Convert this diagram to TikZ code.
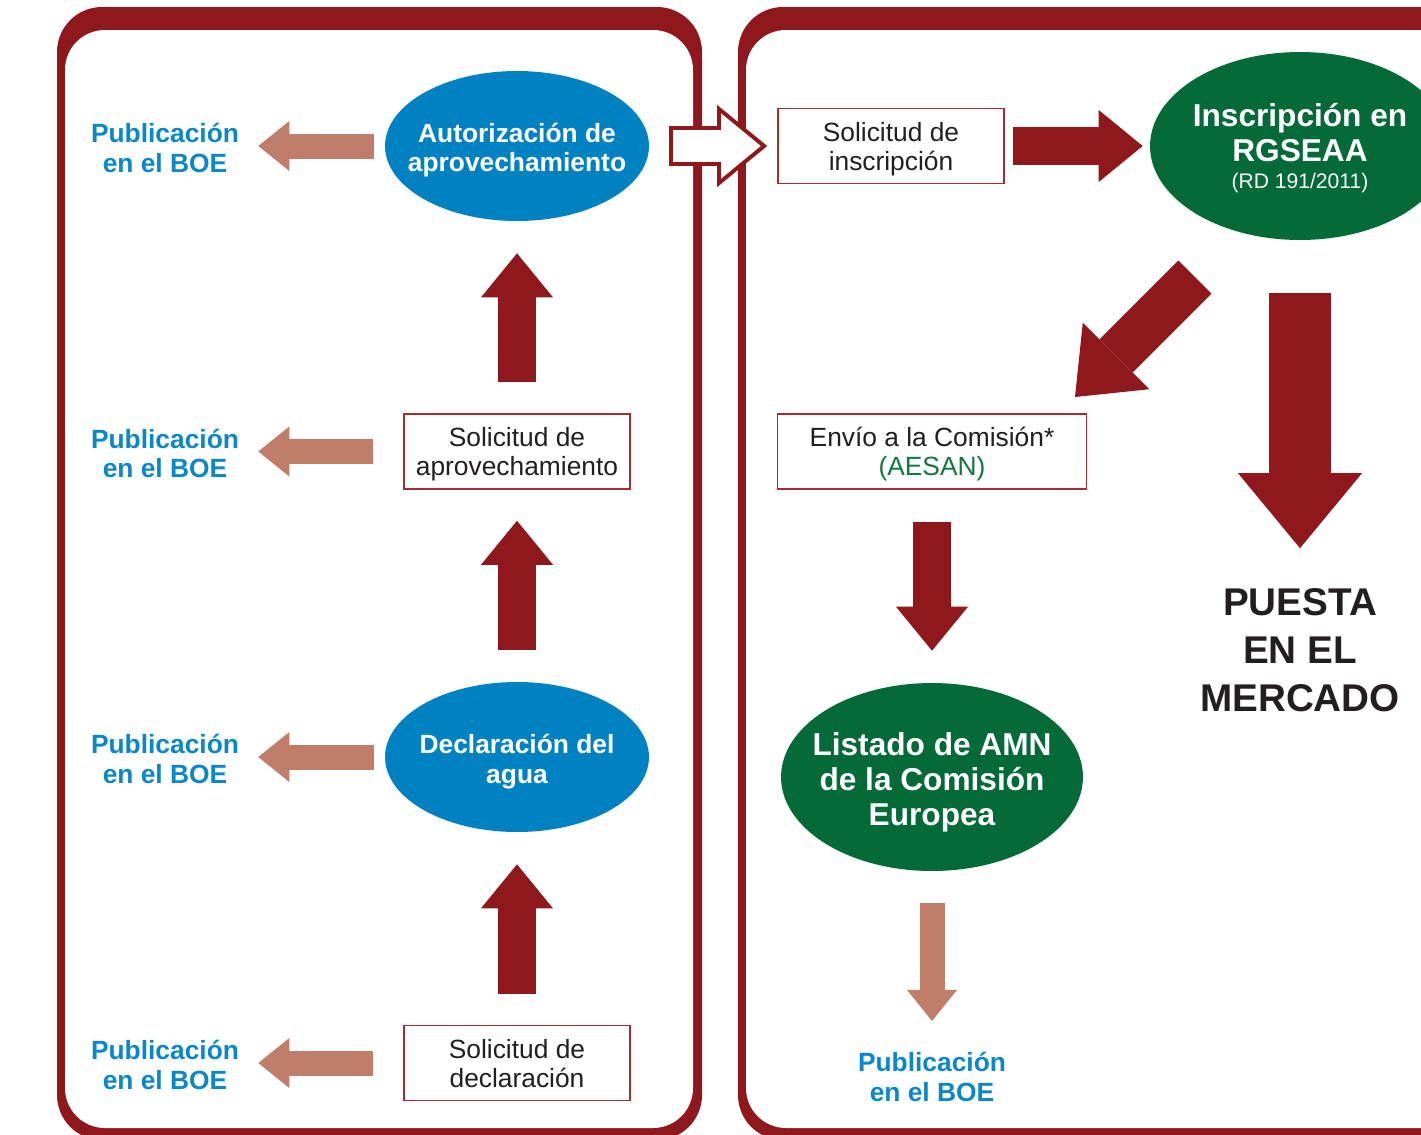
\documentclass[tikz,border=0pt]{standalone}
\usepackage{fontspec}
\setmainfont{Liberation Sans}
\usetikzlibrary{arrows.meta,shapes.geometric}
\definecolor{boered}{RGB}{142,24,27}
\definecolor{boxred}{RGB}{165,45,50}
\definecolor{salmon}{RGB}{192,126,106}
\definecolor{ellblue}{RGB}{0,129,194}
\definecolor{boeblue}{RGB}{10,135,198}
\definecolor{ellgreen}{RGB}{3,106,56}
\definecolor{aesangreen}{RGB}{20,120,62}
\definecolor{textdark}{RGB}{35,31,32}
\begin{document}
\begin{tikzpicture}[x=0.02cm, y=-0.02cm,
  pub/.style={text=boeblue, font=\fontsize{15}{17}\selectfont\bfseries, align=center, inner sep=0pt},
  solbox/.style={draw=boxred, line width=0.9pt, minimum width=4.52cm, minimum height=1.5cm, inner sep=0pt, text depth=0pt, align=center, text=textdark, font=\fontsize{15}{16.5}\selectfont},
  blueell/.style={shape=ellipse, fill=ellblue, minimum width=5.28cm, minimum height=3cm, inner sep=0pt},
  greenell/.style={shape=ellipse, fill=ellgreen, minimum width=6.04cm, minimum height=3.76cm, inner sep=0pt},
  elltext/.style={inner sep=0pt, align=center, text=white, font=\fontsize{15}{17}\selectfont\bfseries},
  bigtext/.style={inner sep=0pt, align=center, text=white, font=\fontsize{18}{20}\selectfont\bfseries},
  redarrow/.style={color=boered, line width=0.76cm, -{Triangle[width=1.44cm, length=0.88cm, line width=0pt]}},
  salarrow/.style={color=salmon, line width=0.5cm, -{Triangle[width=1cm, length=0.62cm, line width=0pt]}},
  hollowout/.style={color=boered, line width=0.8cm, -{Triangle[width=1.64cm, length=1cm, line width=0pt]}},
  hollowin/.style={color=white, line width=0.64cm, -{Triangle[width=1.3cm, length=0.79cm, line width=0pt]}}]
\useasboundingbox (0,0) rectangle (1421,1134);
\clip (0,0) rectangle (1421,1134);
\fill[boered, rounded corners=0.9cm] (57,7) rectangle (702,1140);
\fill[white, rounded corners=0.8cm] (65,30) rectangle (693,1128);
\fill[boered, rounded corners=0.9cm] (738,7) rectangle (1500,1140);
\fill[white, rounded corners=0.8cm] (746,30) rectangle (1490,1128);
\node[blueell] (aut) at (517,146) {};
\node[elltext] (autT) at (517,150) {Autorización de\\aprovechamiento};
\node[solbox] (apr) at (517,451.5) {Solicitud de\\aprovechamiento};
\node[blueell] (dec) at (517,757) {};
\node[elltext] (decT) at (517,762) {Declaración del\\agua};
\node[solbox] (sdec) at (517,1063) {Solicitud de\\declaración};
\node[pub] (pub1) at (165,148) {Publicación\\en el BOE};
\node[pub] (pub2) at (165,453.5) {Publicación\\en el BOE};
\node[pub] (pub3) at (165,759) {Publicación\\en el BOE};
\node[pub] (pub4) at (165,1065) {Publicación\\en el BOE};
\node[solbox] (ins) at (891,146) {Solicitud de\\inscripción};
\node[greenell, minimum width=6cm] (rgs) at (1300,146) {};
\node[bigtext] (rgsT) at (1300,148) {Inscripción en\\RGSEAA\\[-5pt]{\fontsize{12}{14}\selectfont\mdseries (RD 191/2011)}};
\node[solbox, minimum width=6.18cm] (env) at (932,451.5) {Envío a la Comisión*\\\textcolor{aesangreen}{(AESAN)}};
\node[greenell] (lis) at (932,777) {};
\node[bigtext] (lisT) at (932,782) {Listado de AMN\\de la Comisión\\Europea};
\node[pub] (pub5) at (932,1077) {Publicación\\en el BOE};
\node[text=textdark, font=\fontsize{22}{27.2}\selectfont\bfseries, align=center, inner sep=0pt] (mkt) at (1300,650) {PUESTA\\EN EL\\MERCADO};
\coordinate (dgA) at (1195,277);
\coordinate (dgB) at (1075,397);
\draw[salarrow, shorten <=0.22cm, shorten >=0.38cm] (aut.west) -- (aut.west -| pub1.east);
\draw[salarrow, shorten <=0.6cm, shorten >=0.38cm] (apr.west) -- (apr.west -| pub2.east);
\draw[salarrow, shorten <=0.22cm, shorten >=0.38cm] (dec.west) -- (dec.west -| pub3.east);
\draw[salarrow, shorten <=0.6cm, shorten >=0.38cm] (sdec.west) -- (sdec.west -| pub4.east);
\draw[redarrow, shorten <=0.62cm, shorten >=0.64cm] (apr.north) -- (aut.south);
\draw[redarrow, shorten <=0.64cm, shorten >=0.62cm] (dec.north) -- (apr.south);
\draw[redarrow, shorten <=0.62cm, shorten >=0.64cm] (sdec.north) -- (dec.south);
\draw[redarrow, shorten <=0.16cm, shorten >=0.14cm] (ins.east) -- (rgs.west);
\draw[redarrow, shorten <=0.64cm, shorten >=0.64cm] (env.south) -- (lis.north);
\draw[salarrow, shorten <=0.64cm, shorten >=0.62cm] (lis.south) -- (pub5.north);
\draw[redarrow, line width=1.24cm, -{Triangle[width=2.48cm, length=1.5cm, line width=0pt]}, shorten <=1.06cm, shorten >=0.8cm] (rgs.south) -- (mkt.north);
\draw[redarrow, line width=0.94cm, -{Triangle[width=1.88cm, length=1.16cm, line width=0pt]}] (dgA) -- (dgB);
\draw[hollowout, shorten <=0.4cm, shorten >=0.2cm] (aut.east) -- (ins.west);
\draw[hollowin, shorten <=0.48cm, shorten >=0.33cm] (aut.east) -- (ins.west);
\end{tikzpicture}
\end{document}
